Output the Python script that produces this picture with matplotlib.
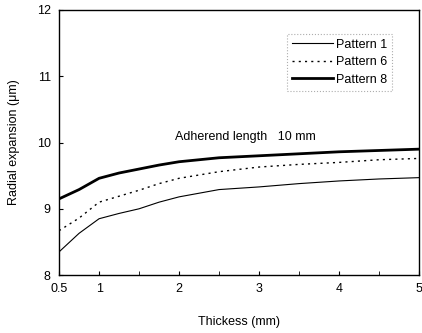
import matplotlib.pyplot as plt

plt.rcParams['font.family'] = ['Liberation Sans', 'DejaVu Sans']

thick = [0.5, 0.75, 1, 1.25, 1.5, 1.75, 2, 2.5, 3, 3.5, 4, 4.5, 5]
pattern1 = [8.35, 8.63, 8.85, 8.93, 9.00, 9.10, 9.18, 9.29, 9.33, 9.38, 9.42, 9.45, 9.47]
pattern6 = [8.67, 8.86, 9.10, 9.19, 9.28, 9.38, 9.46, 9.56, 9.63, 9.67, 9.70, 9.74, 9.76]
pattern8 = [9.15, 9.29, 9.46, 9.54, 9.60, 9.66, 9.71, 9.77, 9.80, 9.83, 9.86, 9.88, 9.90]

xticks = [0.5, 1, 2, 3, 4, 5]
xticklabels = ['0.5', '1', '2', '3', '4', '5']
yticks = [8, 9, 10, 11, 12]

fig = plt.figure(figsize=(4.22, 3.33), dpi=100)
ax = fig.add_axes([0.140, 0.174, 0.853, 0.796])

ax.plot(thick, pattern1, '-', color='black', lw=0.8, label='Pattern 1')
ax.plot(thick, pattern6, linestyle=(0, (1.5, 3)), color='black', lw=1.0, label='Pattern 6')
ax.plot(thick, pattern8, '-', color='black', lw=2.0, label='Pattern 8')

ax.set_xlim(0.5, 5)
ax.set_ylim(8, 12)
ax.set_xticks(xticks)
ax.set_xticklabels(xticklabels)
ax.set_xticks([1.5, 2.5, 3.5, 4.5], minor=True)
ax.set_yticks(yticks)
ax.tick_params(direction='in', length=3, labelsize=9, pad=6)
ax.tick_params(which='minor', direction='in', length=3)
for s in ax.spines.values():
    s.set_linewidth(1.0)

ax.text(1.95, 10.04, 'Adherend length   10 mm', fontsize=9)

ax.set_xlabel('Thickess (mm)', fontsize=9, labelpad=15)
ax.set_ylabel('Radial expansion (\u03bcm)', fontsize=9, labelpad=12)

leg = ax.legend(loc='upper right', bbox_to_anchor=(0.935, 0.925), fontsize=9,
                frameon=True, fancybox=False, handlelength=3.3,
                borderpad=0.4, labelspacing=0.45, handletextpad=0.2,
                borderaxespad=0.3)
leg.get_frame().set_edgecolor('#999999')
leg.get_frame().set_linestyle(':')
leg.get_frame().set_linewidth(0.8)

plt.savefig('out.png', dpi=100)
